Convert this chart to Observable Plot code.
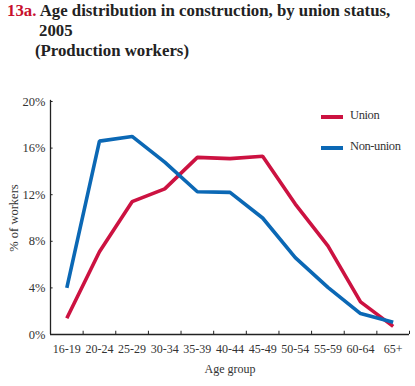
<!DOCTYPE html>
<html>
<head>
<meta charset="utf-8">
<script src="https://cdn.jsdelivr.net/npm/d3@7"></script>
<script src="https://cdn.jsdelivr.net/npm/@observablehq/plot@0.6"></script>
<style>
  html, body { margin: 0; padding: 0; background: #fff; }
  #wrap { position: relative; width: 415px; height: 386px; overflow: hidden; font-family: "Liberation Serif", "Times New Roman", serif; }
  #title { position: relative; height: 70px; font-weight: bold; font-size: 16.8px; color: #222; }
  #title span { position: absolute; white-space: nowrap; }
  .num { color: #c8102e; }
  #legend { position: absolute; left: 0; top: 0; font-size: 12.5px; color: #333; }
  #legend .sw { position: absolute; width: 22px; height: 4px; }
  #legend .lb { position: absolute; white-space: nowrap; letter-spacing: -0.4px; }
  svg text { font-family: "Liberation Serif", "Times New Roman", serif; }
</style>
</head>
<body>
<div id="wrap">
  <div id="title">
    <span style="left:7px; top:1px;"><span class="num" style="position:static">13a.</span> Age distribution in construction, by union status,</span>
    <span style="left:39px; top:21px;">2005</span>
    <span style="left:35px; top:41px;">(Production workers)</span>
  </div>
  <div id="chart"></div>
  <div id="legend"></div>
</div>
<script>
const ageGroups = ["16-19","20-24","25-29","30-34","35-39","40-44","45-49","50-54","55-59","60-64","65+"];
const unionPct    = [1.4, 7.1, 11.4, 12.5, 15.2, 15.1, 15.3, 11.2, 7.6, 2.8, 0.7];
const nonUnionPct = [4.0, 16.6, 17.0, 14.8, 12.25, 12.2, 10.0, 6.6, 4.05, 1.8, 1.05];
const seriesNames = ["Union", "Non-union"];
const seriesColors = ["#cc1241", "#0b68b5"];
const yTicks = [0, 4, 8, 12, 16, 20];

const rows = [];
ageGroups.forEach((g, i) => {
  rows.push({series: "Union", i, pct: unionPct[i]});
  rows.push({series: "Non-union", i, pct: nonUnionPct[i]});
});
const boundaries = d3.range(ageGroups.length + 1).map(k => k - 0.5);

const plot = Plot.plot({
  width: 415,
  height: 316,
  marginTop: 31,
  marginBottom: 52,
  marginLeft: 50,
  marginRight: 6,
  style: {fontFamily: "Liberation Serif, Times New Roman, serif", fontSize: "12px", color: "#333", background: "transparent"},
  x: {type: "linear", domain: [-0.5, ageGroups.length - 0.5]},
  y: {domain: [0, 20]},
  color: {domain: seriesNames, range: seriesColors},
  marks: [
    Plot.axisY({ticks: yTicks, tickSize: 0, tickPadding: 5, tickFormat: d => d + "%", label: "% of workers", labelAnchor: "center", labelArrow: "none", labelOffset: 41, fontSize: 12.5}),
    Plot.axisX({ticks: d3.range(ageGroups.length), tickSize: 0, tickPadding: 10, tickFormat: i => ageGroups[i], label: "Age group", labelAnchor: "center", labelArrow: "none", labelOffset: 38, fontSize: 12}),
    Plot.ruleY(yTicks, {y: d => d, x1: -0.5, x2: -0.42, stroke: "#222", strokeWidth: 1}),
    Plot.ruleX(boundaries.slice(1), {x: d => d, y1: 0, y2: 0.28, stroke: "#222", strokeWidth: 1}),
    Plot.ruleX([-0.5], {y1: 0, y2: 20.1, stroke: "#222", strokeWidth: 1.3}),
    Plot.ruleY([0], {x1: -0.5, x2: ageGroups.length - 0.5, stroke: "#222", strokeWidth: 1.3}),
    Plot.line(rows, {x: "i", y: "pct", z: "series", stroke: "series", strokeWidth: 3.6, strokeLinejoin: "miter", strokeLinecap: "butt"})
  ]
});
plot.style.display = "block";
document.getElementById("chart").appendChild(plot);

// legend
const legend = document.getElementById("legend");
const legendTops = [115, 146];
seriesNames.forEach((name, k) => {
  const sw = document.createElement("div");
  sw.className = "sw";
  sw.style.left = "321px";
  sw.style.top = legendTops[k] + "px";
  sw.style.background = seriesColors[k];
  legend.appendChild(sw);
  const lb = document.createElement("div");
  lb.className = "lb";
  lb.style.left = "350px";
  lb.style.top = (legendTops[k] - 7) + "px";
  lb.textContent = name;
  legend.appendChild(lb);
});
</script>
</body>
</html>
